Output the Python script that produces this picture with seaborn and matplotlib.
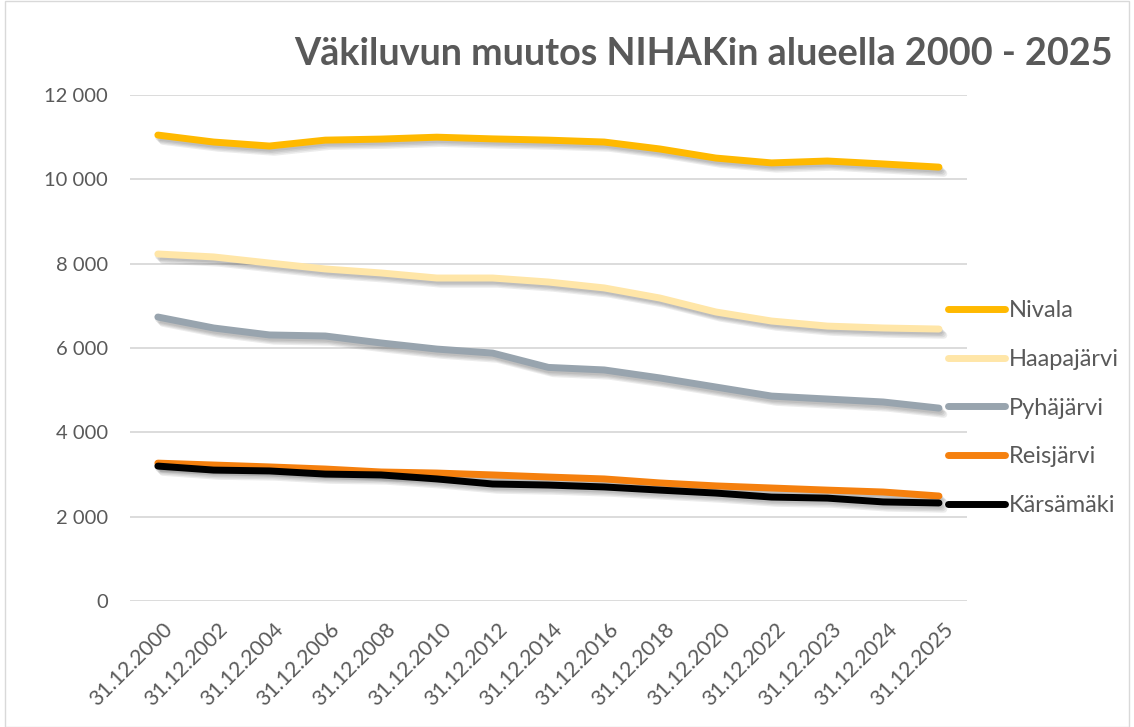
import numpy as np
import pandas as pd
import matplotlib
matplotlib.use("Agg")
import matplotlib.pyplot as plt
import matplotlib.patheffects as pe
import matplotlib.transforms as mtrans
from matplotlib.ticker import FuncFormatter
import seaborn as sns

dates = ["31.12.2000", "31.12.2002", "31.12.2004", "31.12.2006", "31.12.2008",
         "31.12.2010", "31.12.2012", "31.12.2014", "31.12.2016", "31.12.2018",
         "31.12.2020", "31.12.2022", "31.12.2023", "31.12.2024", "31.12.2025"]

nivala = [11050, 10885, 10790, 10930, 10955, 11000, 10960, 10930, 10885, 10720,
          10505, 10390, 10435, 10365, 10290]
haapajarvi = [8230, 8160, 8015, 7875, 7780, 7660, 7660, 7565, 7425, 7185,
              6855, 6640, 6520, 6475, 6450]
pyhajarvi = [6735, 6475, 6310, 6285, 6120, 5975, 5880, 5540, 5480, 5290,
             5075, 4860, 4790, 4720, 4575]
reisjarvi = [3270, 3225, 3180, 3130, 3060, 3035, 2990, 2940, 2895, 2800,
             2730, 2680, 2630, 2585, 2490]
karsamaki = [3200, 3105, 3085, 3010, 2990, 2895, 2775, 2750, 2705, 2630,
             2560, 2465, 2440, 2350, 2325]

names = ["Nivala", "Haapajärvi", "Pyhäjärvi", "Reisjärvi", "Kärsämäki"]
colors = ["#FFB900", "#FFE6A8", "#98A4AE", "#F5800E", "#000000"]

series = [nivala, haapajarvi, pyhajarvi, reisjarvi, karsamaki]
df = pd.concat([pd.DataFrame({"pvm": dates, "x": range(len(dates)), "kunta": n, "asukkaat": v})
                for n, v in zip(names, series)], ignore_index=True)

sns.set_style("white")
plt.rcParams["font.family"] = ["Lato", "DejaVu Sans"]
text_col = "#595959"

fig = plt.figure(figsize=(11.34, 7.27), dpi=100)
ax = fig.add_axes([0.1146, 0.1733, 0.738, 0.696])

sns.lineplot(data=df, x="x", y="asukkaat", hue="kunta", hue_order=names,
             palette=colors, linewidth=5, ax=ax, sort=False, legend=False)
# soft drop shadow, a few faint layers
shadow = [pe.SimpleLineShadow(offset=(o, -o - 1), alpha=0.09, shadow_color="#303030")
          for o in (0.5, 1.5, 2.5, 3.5)]
for line in ax.get_lines():
    line.set_solid_capstyle("round")
    line.set_path_effects(shadow + [pe.Normal()])

ax.set_xlim(-0.5, len(dates) - 0.5)
ax.set_ylim(0, 12000)
ax.set_yticks(np.arange(0, 12001, 2000))
ax.yaxis.set_major_formatter(FuncFormatter(lambda v, p: f"{int(v):,}".replace(",", " ")))
ax.set_xticks(range(len(dates)))
ax.set_xticklabels(dates, rotation=45, ha="right", rotation_mode="anchor")
ax.tick_params(axis="x", length=0, labelsize=15.3, colors=text_col, pad=13)
ax.tick_params(axis="y", length=0, labelsize=14.5, colors=text_col, pad=16)
shift = mtrans.ScaledTranslation(4 / 100, 0, fig.dpi_scale_trans)
for lab in ax.get_xticklabels():
    lab.set_transform(lab.get_transform() + shift)
ax.grid(axis="y", color="#D9D9D9", linewidth=1.3)
ax.set_axisbelow(True)
for s in ax.spines.values():
    s.set_visible(False)
ax.set_xlabel("")
ax.set_ylabel("")

fig.text(0.62, 0.926, "Väkiluvun muutos NIHAKin alueella 2000 - 2025",
         ha="center", va="center", fontsize=27.2, fontweight="bold", color=text_col)

handles = [plt.Line2D([], [], color=c, linewidth=5, solid_capstyle="round") for c in colors]
fig.legend(handles, names, loc="upper left", bbox_to_anchor=(0.8175, 0.616),
           frameon=False, fontsize=17, handlelength=2.4, handletextpad=0.15,
           labelspacing=1.17, labelcolor=text_col)

fig.patches.append(plt.Rectangle((0.004, 0.0), 0.992, 0.998, transform=fig.transFigure,
                                 fill=False, edgecolor="#D9D9D9", linewidth=1))

fig.savefig("out.png", dpi=100)
